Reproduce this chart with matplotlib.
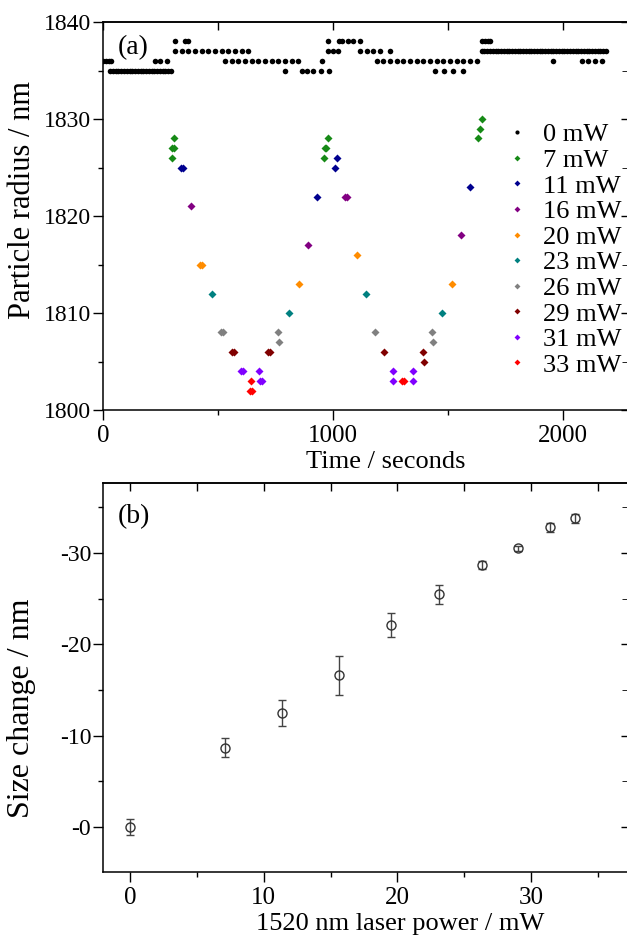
import matplotlib
matplotlib.use("Agg")
import matplotlib.pyplot as plt
from matplotlib.ticker import MultipleLocator, FuncFormatter
from matplotlib.lines import Line2D

plt.rcParams['font.family'] = ['Liberation Serif', 'DejaVu Serif']

# ---------------- Panel (a) data: time (s) and particle radius (nm) -------------
time_0mW = [0, 12, 24, 34,
            30, 42, 54, 66, 78, 90, 102, 114, 126, 138, 150, 162, 174, 186, 198, 210,
            222, 234, 246, 258, 270, 282, 294,
            225, 247, 278,
            312, 341, 370, 399, 428, 457, 486, 515, 544, 573, 602, 631,
            312, 355, 370,
            529, 558, 587, 616, 645, 674, 703, 732, 761, 790, 819, 848,
            790, 863, 885, 914, 945, 983,
            950,
            979, 1001, 1022, 1117, 1146, 1175, 1204, 1247,
            979, 1024, 1040, 1066, 1085, 1117,
            1189, 1218, 1247, 1276, 1305, 1334, 1363, 1392, 1421, 1450, 1479, 1508, 1537,
            1566, 1595, 1624,
            1443, 1483, 1522, 1563,
            1648, 1660, 1672, 1684,
            1646, 1658, 1670, 1682, 1694, 1706, 1718, 1730, 1742, 1754, 1766, 1778, 1790,
            1802, 1814, 1826, 1838, 1850, 1862, 1874, 1886, 1898, 1910, 1922, 1934, 1946,
            1958, 1970, 1982, 1994, 2006, 2018, 2030, 2042, 2054, 2066, 2078, 2090, 2102,
            2114, 2126, 2138, 2150, 2162, 2174, 2186,
            1957, 2081, 2110, 2139, 2168]
radius_0mW = [1836, 1836, 1836, 1836,
              1835, 1835, 1835, 1835, 1835, 1835, 1835, 1835, 1835, 1835, 1835, 1835, 1835,
              1835, 1835, 1835, 1835, 1835, 1835, 1835, 1835, 1835, 1835,
              1836, 1836, 1836,
              1837, 1837, 1837, 1837, 1837, 1837, 1837, 1837, 1837, 1837, 1837, 1837,
              1838, 1838, 1838,
              1836, 1836, 1836, 1836, 1836, 1836, 1836, 1836, 1836, 1836, 1836, 1836,
              1835, 1835, 1835, 1835, 1835, 1835,
              1836,
              1837, 1837, 1837, 1837, 1837, 1837, 1837, 1837,
              1838, 1838, 1838, 1838, 1838, 1838,
              1836, 1836, 1836, 1836, 1836, 1836, 1836, 1836, 1836, 1836, 1836, 1836, 1836,
              1836, 1836, 1836,
              1835, 1835, 1835, 1835,
              1838, 1838, 1838, 1838,
              1837, 1837, 1837, 1837, 1837, 1837, 1837, 1837, 1837, 1837, 1837, 1837, 1837,
              1837, 1837, 1837, 1837, 1837, 1837, 1837, 1837, 1837, 1837, 1837, 1837, 1837,
              1837, 1837, 1837, 1837, 1837, 1837, 1837, 1837, 1837, 1837, 1837, 1837, 1837,
              1837, 1837, 1837, 1837, 1837, 1837, 1837,
              1836, 1836, 1836, 1836, 1836]

time_7mW = [297, 299, 306, 309, 962, 966, 970, 976, 1631, 1639, 1646]
radius_7mW = [1826, 1827, 1827, 1828, 1826, 1827, 1827, 1828, 1828, 1829, 1830]

time_11mW = [340, 348, 931, 1009, 1015, 1595]
radius_11mW = [1825, 1825, 1822, 1825, 1826, 1823]

time_16mW = [381, 892, 1050, 1062, 1556]
radius_16mW = [1821, 1817, 1822, 1822, 1818]

time_20mW = [421, 429, 851, 1102, 1515]
radius_20mW = [1815, 1815, 1813, 1816, 1813]

time_23mW = [471, 808, 1141, 1472]
radius_23mW = [1812, 1810, 1812, 1810]

time_26mW = [511, 519, 761, 764, 1182, 1428, 1433]
radius_26mW = [1808, 1808, 1808, 1807, 1808, 1808, 1807]

time_29mW = [559, 567, 718, 726, 1221, 1389, 1396]
radius_29mW = [1806, 1806, 1806, 1806, 1806, 1806, 1805]

time_31mW = [598, 606, 679, 681, 689, 1261, 1261, 1348, 1348]
radius_31mW = [1804, 1804, 1804, 1803, 1803, 1804, 1803, 1804, 1803]

time_33mW = [642, 638, 646, 1301, 1309]
radius_33mW = [1803, 1802, 1802, 1803, 1803]

series_labels = ['0 mW', '7 mW', '11 mW', '16 mW', '20 mW', '23 mW', '26 mW',
                 '29 mW', '31 mW', '33 mW']

# ---------------- Panel (b) data -------------------------------------------------
laser_power = [0, 7.1, 11.4, 15.6, 19.5, 23.1, 26.3, 29.05, 31.4, 33.3]
size_change = [0, -8.7, -12.5, -16.6, -22.1, -25.5, -28.7, -30.5, -32.8, -33.8]
size_err = [0.9, 1.05, 1.45, 2.1, 1.3, 1.05, 0.45, 0.3, 0.5, 0.5]

# ---------------- Figure ---------------------------------------------------------
W, H = 627, 936
fig = plt.figure(figsize=(W / 100, H / 100), dpi=100)


def px_axes(l, t, r, b):
    return [l / W, 1 - b / H, (r - l) / W, (b - t) / H]


ax1 = fig.add_axes(px_axes(103.3, 22, 632, 410))
ax2 = fig.add_axes(px_axes(103, 483, 632, 872))

colors = ['#000000', '#168a16', '#00008f', '#820082', '#ff8c00', '#008080',
          '#808080', '#800000', '#8000ff', '#ff0000']
times = [time_0mW, time_7mW, time_11mW, time_16mW, time_20mW, time_23mW,
         time_26mW, time_29mW, time_31mW, time_33mW]
radii = [radius_0mW, radius_7mW, radius_11mW, radius_16mW, radius_20mW,
         radius_23mW, radius_26mW, radius_29mW, radius_31mW, radius_33mW]

for i, (t, r) in enumerate(zip(times, radii)):
    if i == 0:
        ax1.plot(t, r, linestyle='none', marker='o', ms=4.0, color=colors[i],
                 mec='none', zorder=3)
    else:
        ax1.plot(t, r, linestyle='none', marker='D', ms=4.2, color=colors[i],
                 mec='none', zorder=3)

# axis limits: right edge of the frame lies just beyond the picture
ax1.set_xlim(0, (632 - 103.3) / 0.2299)
ax1.set_ylim(1800, 1840)
ax1.xaxis.set_major_locator(MultipleLocator(1000))
ax1.xaxis.set_minor_locator(MultipleLocator(500))
ax1.yaxis.set_major_locator(MultipleLocator(10))
ax1.yaxis.set_minor_locator(MultipleLocator(5))
ax1.set_xlabel('Time / seconds', fontsize=19)
ax1.set_ylabel('Particle radius / nm', fontsize=22)
ax1.yaxis.set_label_coords(-0.126, 0.541)
ax1.text(0.027, 0.935, '(a)', transform=ax1.transAxes, fontsize=20,
         ha='left', va='center')

handles = []
for i, lab in enumerate(series_labels):
    handles.append(Line2D([], [], linestyle='none',
                          marker='o' if i == 0 else 'D',
                          ms=3.0, color=colors[i], mec='none', label=lab))
leg = ax1.legend(handles=handles, loc='upper left',
                 bbox_to_anchor=(509 / W, 1 - 123 / H),
                 bbox_transform=fig.transFigure, frameon=False,
                 fontsize=19, handlelength=0.6, handletextpad=0.7,
                 labelspacing=0.08, borderpad=0, borderaxespad=0)

# Panel (b)
ax2.errorbar(laser_power, size_change, yerr=size_err, fmt='o', ms=6.5,
             mfc='none', mec='#333333', mew=1.0, ecolor='#444444',
             elinewidth=1.0, capsize=3.2, capthick=1.0)
ax2.set_xlim(-2.02, (632 - 130) / 13.37)
ax2.set_ylim(4.93, -37.67)
ax2.xaxis.set_major_locator(MultipleLocator(10))
ax2.xaxis.set_minor_locator(MultipleLocator(5))
ax2.yaxis.set_major_locator(MultipleLocator(10))
ax2.yaxis.set_minor_locator(MultipleLocator(5))
ax2.yaxis.set_major_formatter(FuncFormatter(lambda v, p: '-%d' % round(abs(v))))
ax2.set_xlabel('1520 nm laser power / mW', fontsize=19)
ax2.set_ylabel('Size change / nm', fontsize=23)
ax2.yaxis.set_label_coords(-0.127, 0.422)
ax2.text(0.027, 0.913, '(b)', transform=ax2.transAxes, fontsize=20,
         ha='left', va='center')

for ax in (ax1, ax2):
    for s in ax.spines.values():
        s.set_linewidth(1.1)
    ax.tick_params(which='major', direction='out', length=7.5, width=1.0,
                   top=False, right=False)
    ax.tick_params(which='minor', direction='out', length=3.5, width=1.0,
                   top=False, right=False)
    ax.tick_params(axis='y', which='major', labelsize=17, pad=1)
    ax.tick_params(axis='x', which='major', labelsize=18, pad=3)

# mirrored inward ticks (top every minor step, right at major+minor)
for ax, step_x in ((ax1, 500), (ax2, 5)):
    sx = ax.secondary_xaxis('top')
    sx.xaxis.set_major_locator(MultipleLocator(step_x))
    sx.tick_params(which='major', direction='in', length=5.5, width=1.0,
                   labeltop=False)
    sx.spines['top'].set_linewidth(1.1)
    sy = ax.secondary_yaxis('right')
    sy.yaxis.set_major_locator(MultipleLocator(10))
    sy.yaxis.set_minor_locator(MultipleLocator(5))
    sy.tick_params(which='major', direction='in', length=8, width=1.0,
                   labelright=False)
    sy.tick_params(which='minor', direction='in', length=7, width=0.6,
                   labelright=False)
    sy.spines['right'].set_linewidth(1.1)

ax1.xaxis.set_label_coords((386 - 103.3) / (632 - 103.3), -0.105)
ax2.xaxis.set_label_coords((400 - 103) / (632 - 103), -0.105)

fig.savefig('out.png', dpi=100)
